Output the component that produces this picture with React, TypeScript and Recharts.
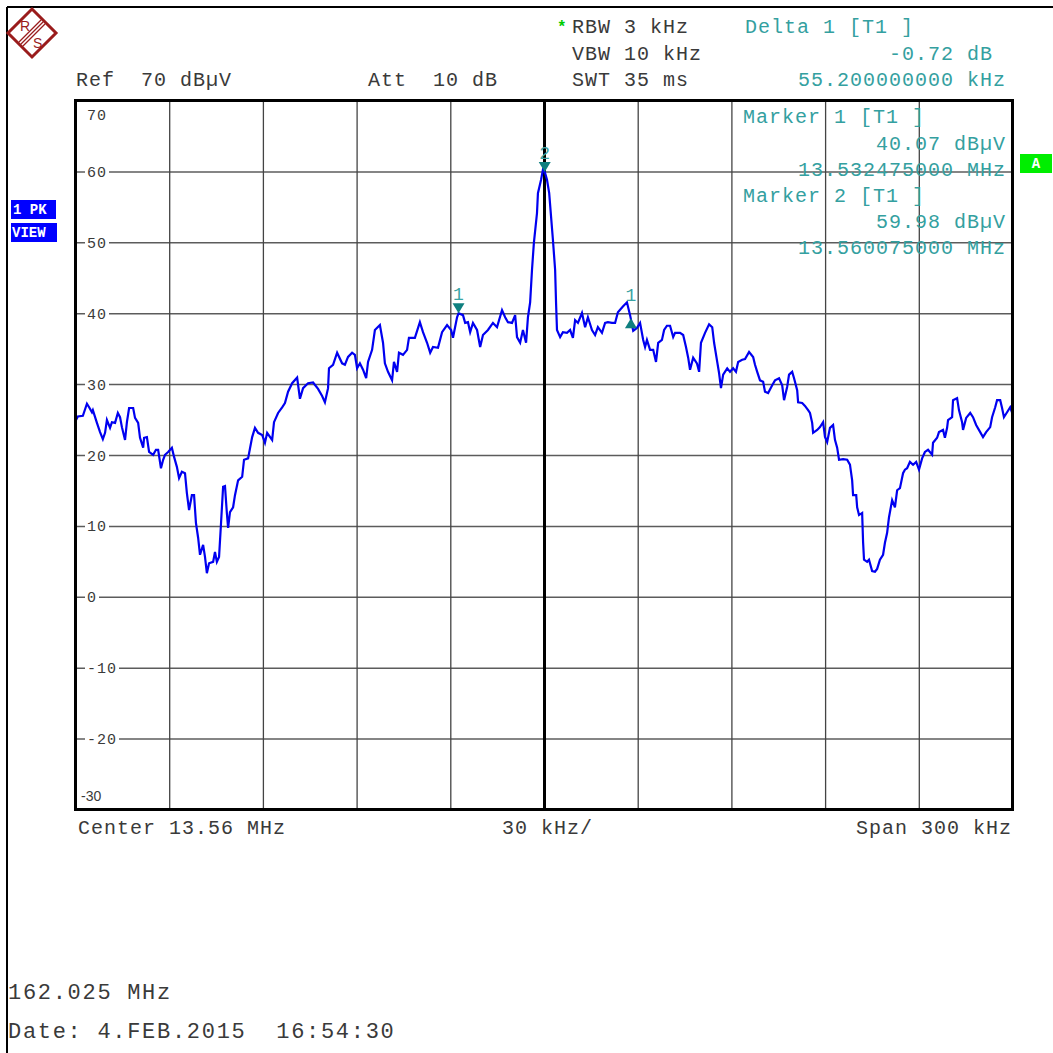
import { LineChart, Line, XAxis, YAxis, ReferenceLine, ReferenceDot } from "recharts";

// frequency offset from center (kHz) and trace level (dBuV)
const freqKHz = [
  -150.0, -149.4, -147.8, -146.5, -145.8, -144.9, -144.6, -143.3, -142.3, -141.4, -140.7, -140.1, -139.1, -138.5,
  -137.5, -136.6, -135.9, -135.3, -134.3, -133.7, -133.0, -131.7, -131.1, -130.1, -129.5, -128.5, -128.2, -127.3,
  -126.6, -125.3, -124.4, -123.7, -122.8, -122.1, -121.5, -120.5, -119.3, -118.6, -117.7, -117.0, -116.1, -115.1,
  -114.5, -113.8, -112.9, -112.2, -111.6, -110.9, -110.3, -109.3, -108.7, -108.1, -107.4, -106.1, -105.5, -104.9,
  -104.2, -103.6, -102.9, -102.3, -101.7, -101.3, -100.7, -99.7, -99.1, -98.1, -96.8, -96.2, -94.9, -93.6, -92.7,
  -91.7, -90.4, -89.5, -88.8, -87.2, -86.6, -85.3, -84.0, -83.1, -82.1, -80.8, -79.2, -78.3, -77.3, -75.7, -74.1,
  -72.5, -71.2, -70.3, -69.3, -69.0, -67.7, -66.4, -64.8, -63.9, -62.9, -61.6, -60.7, -60.0, -59.1, -58.1, -57.1,
  -56.5, -55.2, -54.3, -52.7, -51.7, -51.1, -50.1, -48.8, -48.2, -47.2, -46.6, -45.3, -44.0, -43.4, -41.5, -39.9,
  -38.9, -37.6, -36.6, -35.7, -34.1, -32.8, -31.2, -29.9, -29.3, -28.0, -27.5, -26.1, -25.4, -24.5, -23.8, -22.9,
  -21.6, -20.6, -19.7, -18.1, -16.5, -15.2, -13.6, -12.6, -11.7, -10.4, -9.4, -8.8, -7.8, -6.9, -5.9, -5.3, -4.6,
  -4.0, -3.4, -2.4, -2.1, -1.1, -0.5, 0.1, 0.8, 1.5, 2.1, 2.7, 3.4, 3.7, 4.0, 5.0, 5.9, 7.2, 8.2, 9.1, 9.8, 10.7,
  12.0, 13.0, 13.9, 15.2, 16.2, 17.1, 18.4, 19.4, 20.3, 21.6, 22.6, 23.5, 25.1, 26.4, 27.4, 28.4, 29.6, 30.6, 31.6,
  32.2, 32.8, 33.8, 34.8, 35.7, 36.4, 37.6, 38.3, 39.2, 40.2, 41.2, 41.8, 43.4, 44.4, 45.3, 46.0, 46.6, 47.6, 48.8,
  49.5, 50.1, 51.4, 52.7, 53.7, 54.3, 55.3, 55.9, 56.5, 57.2, 58.5, 59.4, 60.4, 61.3, 62.0, 63.3, 64.2, 65.5, 66.8,
  67.4, 68.1, 69.0, 70.0, 70.6, 71.6, 72.9, 73.8, 75.1, 76.1, 76.7, 77.7, 78.3, 79.3, 79.9, 80.9, 81.2, 82.5, 83.4,
  84.4, 85.0, 85.7, 86.0, 87.3, 88.2, 89.2, 89.8, 90.5, 91.4, 92.4, 93.0, 93.7, 94.3, 95.6, 96.9, 97.8, 98.5, 98.8,
  99.8, 100.1, 100.7, 101.7, 102.0, 102.3, 103.3, 103.9, 104.9, 105.8, 106.5, 107.4, 108.4, 109.0, 109.7, 110.3,
  111.3, 112.2, 112.9, 113.8, 114.8, 115.4, 116.1, 117.0, 118.0, 119.0, 119.9, 120.9, 121.8, 122.8, 124.1, 124.4,
  125.7, 126.3, 127.6, 128.2, 128.9, 129.2, 130.5, 130.8, 132.1, 132.7, 133.7, 134.0, 135.0, 136.3, 137.2, 138.2,
  139.5, 140.4, 141.4, 142.7, 143.3, 144.3, 144.9, 145.9, 146.5, 147.1, 148.1, 149.1, 150.0,
];

const levelDbuV = [
  25.0, 25.5, 25.6, 27.3, 26.8, 26.1, 26.4, 24.6, 23.3, 22.3, 23.2, 25.0, 23.9, 24.7,
  24.6, 26.0, 25.4, 24.0, 22.2, 24.7, 26.7, 26.7, 25.3, 24.6, 22.5, 21.1, 22.5, 22.6,
  20.5, 20.1, 20.8, 20.8, 18.2, 19.4, 20.1, 20.5, 21.1, 19.8, 18.4, 16.8, 17.7, 17.5,
  14.7, 12.3, 14.4, 14.4, 10.5, 8.4, 6.0, 7.4, 5.7, 3.4, 4.8, 5.0, 6.4, 5.0,
  5.7, 10.2, 15.6, 15.7, 11.9, 9.8, 12.0, 12.7, 14.4, 16.5, 17.0, 19.4, 19.6, 22.6, 23.9,
  23.2, 22.9, 21.8, 23.2, 22.2, 24.7, 26.0, 26.8, 27.4, 29.0, 30.2, 31.0, 28.0, 29.5, 30.2, 30.3,
  29.4, 28.4, 27.5, 29.5, 32.3, 32.8, 34.5, 33.0, 32.8, 33.9, 34.5, 34.2, 32.3, 33.0, 32.1, 30.9,
  33.2, 34.9, 37.7, 38.4, 35.9, 33.0, 31.8, 30.6, 33.2, 31.8, 34.5, 34.2, 34.9, 36.6, 36.6, 38.8,
  37.4, 35.9, 34.5, 35.3, 35.2, 37.4, 38.4, 37.7, 36.6, 39.5, 40.07, 39.8, 38.7, 38.8, 37.4, 38.7,
  37.7, 35.3, 37.0, 37.7, 38.7, 38.1, 40.5, 39.5, 38.8, 38.7, 39.8, 36.7, 35.9, 37.7, 35.9, 39.5, 41.6,
  46.2, 50.0, 54.2, 57.0, 58.9, 60.3, 59.98, 58.9, 57.0, 53.7, 50.4, 46.2, 41.5, 37.7, 36.7, 37.4, 37.3, 37.7, 36.6, 39.1, 38.7,
  40.1, 38.1, 39.5, 37.7, 37.0, 38.1, 37.3, 38.7, 38.8, 38.7, 38.7, 40.2, 41.0, 41.6, 39.8, 37.6, 38.0, 38.7, 36.3,
  35.3, 36.3, 34.9, 34.9, 33.2, 35.9, 36.3, 37.7, 38.3, 38.3, 36.7, 37.3, 37.3, 37.0, 35.3, 33.8, 32.1, 33.8, 33.0,
  31.8, 35.9, 37.3, 38.5, 38.1, 35.9, 33.2, 31.6, 29.5, 31.4, 32.3, 31.8, 32.3, 31.8, 33.2, 33.5, 33.6, 34.6, 33.9,
  32.8, 31.8, 30.6, 30.4, 29.0, 28.8, 29.9, 30.6, 30.9, 29.9, 27.8, 29.7, 31.4, 31.8, 30.9, 29.2, 27.5, 27.4, 27.0,
  26.4, 26.0, 24.6, 23.2, 23.6, 24.0, 24.7, 22.6, 21.9, 23.9, 24.3, 22.2, 21.1, 19.4, 19.5, 19.4, 18.7, 16.5, 14.4,
  14.4, 12.7, 11.6, 11.9, 7.8, 5.3, 5.0, 5.3, 3.7, 3.6, 4.0, 5.3, 6.0, 7.7, 9.1, 11.3,
  13.7, 12.7, 15.1, 15.4, 17.5, 18.0, 18.2, 19.1, 18.7, 19.1, 18.0, 19.6, 20.5, 20.8, 20.1, 21.8,
  22.5, 23.3, 23.6, 22.5, 23.9, 25.0, 25.4, 27.8, 28.1, 26.4, 24.7, 23.6, 25.3, 26.0, 25.4, 24.3,
  23.3, 22.6, 23.3, 24.0, 25.4, 26.8, 27.8, 27.8, 26.7, 25.4, 26.1, 26.8, 25.7,
];

const xGridKHz = [-120, -90, -60, -30, 0, 30, 60, 90, 120];
const yTicks = [70, 60, 50, 40, 30, 20, 10, 0, -10, -20, -30];

const markerFreqs = [-27.525, 0.075, 27.675];
const markerLevels = [40.07, 59.98, 39.35];
const markerNames = ["1", "2", "1"];
const markerPointsDown = [true, true, false];

const data = freqKHz.map((f, i) => ({ f, level: levelDbuV[i] }));

const MONO = "'Liberation Mono', 'Courier New', monospace";
const TEAL = "#34a0a0";
const INK = "#3a3a3a";

function YTickLabel({ viewBox, value }: any) {
  if (!viewBox) return null;
  const x = viewBox.x;
  const y = viewBox.y;
  if (value === 70) {
    return (
      <text x={x + 11} y={y + 19} fontFamily={MONO} fontSize={15} letterSpacing={1} fill={INK}>
        70
      </text>
    );
  }
  if (value === -30) {
    return (
      <text x={x + 5} y={y - 9} fontFamily="'Liberation Sans', sans-serif" fontSize={14} fill={INK}>
        -30
      </text>
    );
  }
  const label = String(value);
  const w = label.length * 10 + 4;
  return (
    <g>
      <rect x={x + 9} y={y - 8} width={w} height={16} fill="#fff" />
      <text x={x + 11} y={y + 5} fontFamily={MONO} fontSize={15} letterSpacing={1} fill={INK}>
        {label}
      </text>
    </g>
  );
}

function MarkerShape({ cx, cy, name, down }: any) {
  if (cx == null || cy == null) return null;
  const tri = down
    ? `${cx - 6},${cy - 10} ${cx + 6},${cy - 10} ${cx},${cy}`
    : `${cx - 6},${cy + 10} ${cx + 6},${cy + 10} ${cx},${cy}`;
  return (
    <g>
      <polygon points={tri} fill="#0f7f7f" />
      <text
        x={cx}
        y={down ? cy - 13 : cy - 17}
        textAnchor="middle"
        fontFamily={MONO}
        fontSize={18}
        fill="#3aa3a3"
      >
        {name}
      </text>
    </g>
  );
}

function T({ x, y, children, anchor = "start", fill = INK, size = 20, ls = 1 }: any) {
  return (
    <text
      x={x}
      y={y}
      textAnchor={anchor}
      fontFamily={MONO}
      fontSize={size}
      letterSpacing={ls}
      fill={fill}
      style={{ whiteSpace: "pre" }}
      xmlSpace="preserve"
    >
      {children}
    </text>
  );
}

export default function App() {
  return (
    <div style={{ position: "absolute", left: 0, top: 0, width: 1053, height: 1053, background: "#fff" }}>
      <div style={{ position: "absolute", left: 0, top: 0 }}>
        <LineChart
          width={1053}
          height={1053}
          data={data}
          margin={{ top: 101, left: 76, right: 40, bottom: 243 }}
        >
          <XAxis dataKey="f" type="number" domain={[-150, 150]} hide allowDataOverflow />
          <YAxis type="number" domain={[-30, 70]} hide allowDataOverflow />
          {yTicks.map((v) => (
            <ReferenceLine
              key={`h${v}`}
              y={v}
              stroke="#5c5c5c"
              strokeWidth={1.5}
              label={(p: any) => <YTickLabel {...p} value={v} />}
            />
          ))}
          {xGridKHz.map((v) => (
            <ReferenceLine
              key={`v${v}`}
              x={v}
              stroke={v === 0 ? "#000" : "#444"}
              strokeWidth={v === 0 ? 3 : 1.3}
            />
          ))}
          <Line
            type="linear"
            dataKey="level"
            stroke="#0000f0"
            strokeWidth={2.2}
            dot={false}
            isAnimationActive={false}
          />
          {markerFreqs.map((f, i) => (
            <ReferenceDot
              key={`m${i}`}
              x={f}
              y={markerLevels[i]}
              shape={(p: any) => <MarkerShape {...p} name={markerNames[i]} down={markerPointsDown[i]} />}
            />
          ))}
        </LineChart>
      </div>

      <svg
        width={1053}
        height={1053}
        style={{ position: "absolute", left: 0, top: 0, pointerEvents: "none" }}
      >
        {/* outer frame */}
        <line x1={7} y1={7} x2={1053} y2={7} stroke="#000" strokeWidth={2} />
        <line x1={7} y1={7} x2={7} y2={1053} stroke="#000" strokeWidth={2} />

        {/* R&S logo */}
        <g>
          <polygon points="32,9 56,33 32,57 8,33" fill="#fff" stroke="#9a1c1c" strokeWidth={3} />
          <line x1={19} y1={42} x2={41} y2={20} stroke="#9a1c1c" strokeWidth={1.2} />
          <line x1={21} y1={44} x2={43} y2={22} stroke="#9a1c1c" strokeWidth={1.2} />
          <line x1={23} y1={46} x2={45} y2={24} stroke="#9a1c1c" strokeWidth={1.2} />
          <text x={20} y={31} fontFamily="'Liberation Sans', sans-serif" fontSize={14} fill="#9a1c1c">R</text>
          <text x={33} y={48} fontFamily="'Liberation Sans', sans-serif" fontSize={14} fill="#9a1c1c">S</text>
        </g>

        {/* header */}
        <T x={76} y={86}>Ref  70 dBµV</T>
        <T x={368} y={86}>Att  10 dB</T>
        <text x={557} y={32} fontFamily={MONO} fontSize={16} fill="#00cc00" fontWeight="bold">*</text>
        <T x={572} y={33}>RBW 3 kHz</T>
        <T x={572} y={60}>VBW 10 kHz</T>
        <T x={572} y={86}>SWT 35 ms</T>
        <T x={745} y={33} fill={TEAL}>Delta 1 [T1 ]</T>
        <T x={993} y={60} anchor="end" fill={TEAL}>-0.72 dB</T>
        <T x={1006} y={86} anchor="end" fill={TEAL}>55.200000000 kHz</T>

        {/* marker info inside plot */}
        <T x={743} y={123} fill={TEAL}>Marker 1 [T1 ]</T>
        <T x={1006} y={150} anchor="end" fill={TEAL}>40.07 dBµV</T>
        <T x={1006} y={176} anchor="end" fill={TEAL}>13.532475000 MHz</T>
        <T x={743} y={202} fill={TEAL}>Marker 2 [T1 ]</T>
        <T x={1006} y={228} anchor="end" fill={TEAL}>59.98 dBµV</T>
        <T x={1006} y={254} anchor="end" fill={TEAL}>13.560075000 MHz</T>

        {/* plot border */}
        <rect x={75.5} y={100.5} width={937} height={709} fill="none" stroke="#000" strokeWidth={3} />

        {/* side badges */}
        <rect x={1020} y={154} width={32} height={19} fill="#00ee00" />
        <text x={1036} y={168} textAnchor="middle" fontFamily={MONO} fontSize={14} fontWeight="bold" fill="#fff">A</text>
        <rect x={11} y={200} width={45} height={19} fill="#0000ff" />
        <text x={13} y={214} fontFamily={MONO} fontSize={14} fontWeight="bold" fill="#fff" xmlSpace="preserve" style={{ whiteSpace: "pre" }}>1 PK</text>
        <rect x={11} y={223} width={46} height={19} fill="#0000ff" />
        <text x={12} y={237} fontFamily={MONO} fontSize={14} fontWeight="bold" fill="#fff">VIEW</text>

        {/* footer */}
        <T x={78} y={834}>Center 13.56 MHz</T>
        <T x={502} y={834}>30 kHz/</T>
        <T x={1012} y={834} anchor="end">Span 300 kHz</T>
        <T x={8} y={999} size={22} ls={1.7}>162.025 MHz</T>
        <T x={8} y={1038} size={22} ls={1.7}>Date: 4.FEB.2015  16:54:30</T>
      </svg>
    </div>
  );
}
